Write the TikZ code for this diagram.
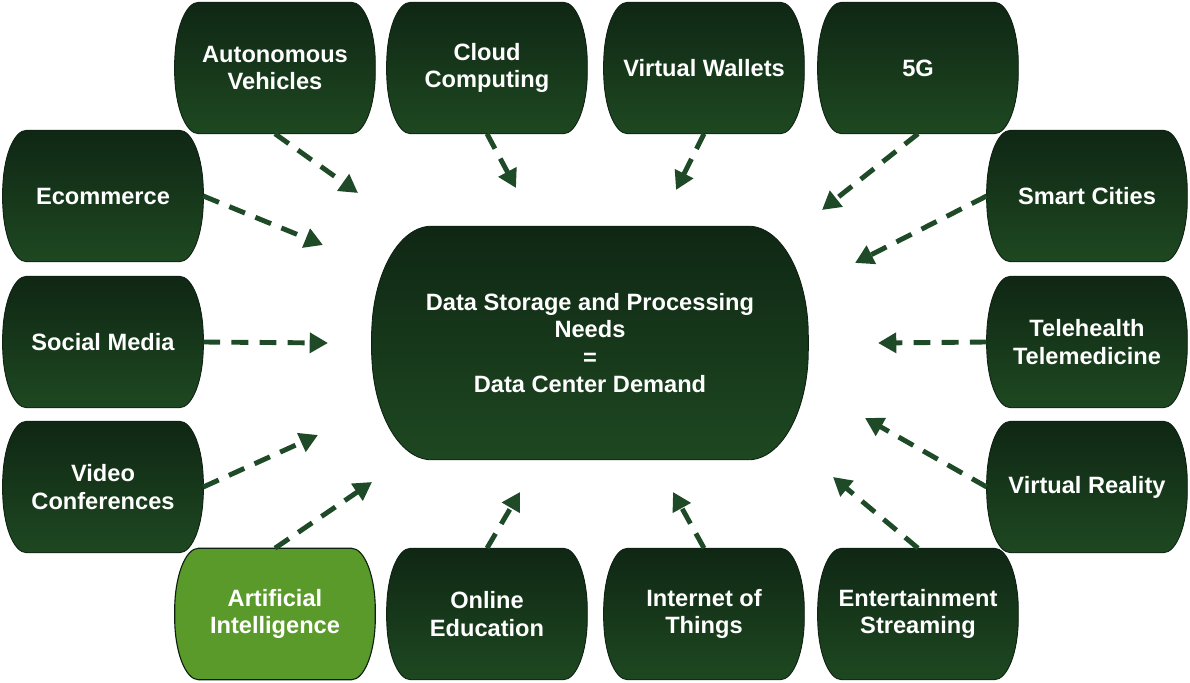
\documentclass[tikz,border=0pt]{standalone}
\usepackage{fontspec}
\setmainfont{Liberation Sans}
\usetikzlibrary{arrows.meta,calc}
\pgfdeclarelayer{background}
\pgfsetlayers{background,main}

\definecolor{tiletop}{HTML}{0F2714}
\definecolor{tilebottom}{HTML}{1E4821}
\definecolor{aigreen}{HTML}{5A9A2A}
\definecolor{arrowgreen}{HTML}{1F4A27}
\definecolor{tileedge}{HTML}{0C1F10}

% rounded tile drawn behind a named node
\newcommand\tileshape[4][tilefill]{%
  \begin{pgfonlayer}{background}
    \path[#1] ($(#2.north east)+(-#3,0)$)
      arc[start angle=90, end angle=0, x radius=#3, y radius=#4]
      -- ($(#2.south east)+(0,#4)$)
      arc[start angle=0, end angle=-90, x radius=#3, y radius=#4]
      -- ($(#2.south west)+(#3,0)$)
      arc[start angle=270, end angle=180, x radius=#3, y radius=#4]
      -- ($(#2.north west)+(0,-#4)$)
      arc[start angle=180, end angle=90, x radius=#3, y radius=#4]
      -- cycle;
  \end{pgfonlayer}}

\begin{document}
\begin{tikzpicture}[
    x=0.025cm, y=0.025cm,
    tile/.style={rectangle, minimum width=5cm, minimum height=3.275cm, inner sep=0pt, align=center, text=white, font=\bfseries\fontsize{16.8}{19.6}\selectfont},
    hub/.style={tile, minimum width=10.9cm, minimum height=5.825cm},
    tilefill/.style={top color=tiletop, bottom color=tilebottom, draw=tileedge, line width=0.6pt},
    aifill/.style={fill=aigreen, draw=tileedge, line width=0.8pt},
    feed/.style={arrowgreen, line width=3.5pt, dash pattern=on 12pt off 8pt, -{Triangle[length=13pt,width=14pt]}}
]
\useasboundingbox (0,0) rectangle (1190,683);

% Centre
\node[hub] (hub) at (590,340) {Data Storage and Processing\\Needs\\=\\Data Center Demand};
\tileshape{hub}{1.5cm}{2.75cm}

% Top row
\node[tile] (auto) at (275,615) {Autonomous\\Vehicles};
\node[tile] (cloud) at (487,615) {Cloud\\Computing};
\node[tile] (wallets) at (704,615) {Virtual Wallets};
\node[tile] (fiveg) at (918,615) {5G};

% Left column
\node[tile] (ecom) at (103,487) {Ecommerce};
\node[tile] (social) at (103,341) {Social Media};
\node[tile] (video) at (103,196) {Video\\Conferences};

% Right column
\node[tile] (smart) at (1087,487) {Smart Cities};
\node[tile] (tele) at (1087,341) {Telehealth\\Telemedicine};
\node[tile] (vr) at (1087,196) {Virtual Reality};

% Bottom row
\node[tile] (ai) at (275,69) {Artificial\\Intelligence};
\node[tile] (edu) at (487,69) {Online\\Education};
\node[tile] (iot) at (704,69) {Internet of\\Things};
\node[tile] (stream) at (918,69) {Entertainment\\Streaming};

\foreach \n in {auto,cloud,wallets,fiveg,ecom,social,video,smart,tele,vr,edu,iot,stream}
  \tileshape{\n}{0.6cm}{1.55cm};
\tileshape[aifill]{ai}{0.6cm}{1.55cm}

% Arrow tips around the centre
\coordinate (auto-tip) at (358,490);
\coordinate (cloud-tip) at (516,495);
\coordinate (wallets-tip) at (676,493);
\coordinate (fiveg-tip) at (822,473);
\coordinate (ecom-tip) at (323,438);
\coordinate (social-tip) at (328,340);
\coordinate (video-tip) at (318,248);
\coordinate (ai-tip) at (372,201);
\coordinate (edu-tip) at (520,191);
\coordinate (iot-tip) at (673,191);
\coordinate (stream-tip) at (833,206);
\coordinate (vr-tip) at (865,265);
\coordinate (tele-tip) at (878,340);
\coordinate (smart-tip) at (855,420);

% Dashed arrows into the centre
\foreach \n in {auto,cloud,wallets,fiveg}
  \draw[feed] (\n.south) -- (\n-tip);
\foreach \n in {ai,edu,iot,stream}
  \draw[feed] (\n.north) -- (\n-tip);
\foreach \n in {ecom,social,video}
  \draw[feed] (\n.east) -- (\n-tip);
\foreach \n in {smart,tele,vr}
  \draw[feed] (\n.west) -- (\n-tip);

\end{tikzpicture}
\end{document}
